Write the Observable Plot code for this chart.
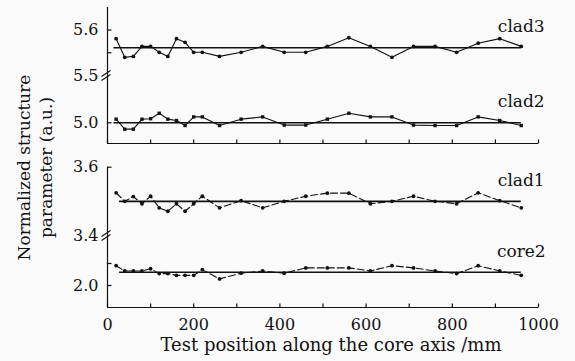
<!DOCTYPE html>
<html><head><meta charset="utf-8">
<script src="https://cdn.jsdelivr.net/npm/d3@7"></script>
<script src="https://cdn.jsdelivr.net/npm/@observablehq/plot@0.6"></script>
<style>html,body{margin:0;padding:0;background:#fafafa;}#chart{width:575px;height:361px;}</style>
</head><body><div id="chart"></div>
<script>
// ---- data ----
const positions = [20,40,60,80,100,120,140,160,180,200,220,260,310,360,410,460,510,560,610,660,710,760,810,860,910,960];
const clad3 = [5.581,5.540,5.542,5.564,5.564,5.551,5.542,5.581,5.573,5.551,5.551,5.542,5.551,5.564,5.551,5.551,5.564,5.583,5.564,5.540,5.564,5.564,5.551,5.571,5.581,5.564];
const clad2 = [5.008,4.986,4.986,5.008,5.009,5.021,5.008,5.005,4.994,5.013,5.013,4.994,5.008,5.013,4.995,4.995,5.008,5.021,5.013,5.013,4.995,4.994,4.994,5.013,5.005,4.994];
const clad1 = [3.525,3.500,3.514,3.493,3.515,3.481,3.471,3.493,3.471,3.493,3.515,3.481,3.502,3.481,3.500,3.515,3.524,3.524,3.493,3.500,3.515,3.500,3.493,3.525,3.502,3.481];
const core2 = [2.045,2.033,2.033,2.033,2.038,2.027,2.027,2.023,2.023,2.023,2.036,2.015,2.028,2.033,2.028,2.040,2.040,2.040,2.033,2.045,2.040,2.033,2.027,2.045,2.033,2.023];
const seriesNames = ["clad3","clad2","clad1","core2"];
const seriesValues = [clad3, clad2, clad1, core2];
const refValues = [5.561, 5.0, 3.5, 2.030];
const refStart = [15, 15, 28, 28];
const dashedSeries = ["clad1","core2"];
const squareSeries = ["clad2"];
const yTickLabels = [5.6, 5.5, 5.0, 3.6, 3.4, 2.0];
const yTickMarks = [5.6, 5.55, 5.0, 3.6, 2.05, 2.0];
const yBreaks = [5.5, 3.4];
const xTicks = d3.range(0, 1001, 100);
const xTickLabels = [0, 200, 400, 600, 800, 1000];
const panels = [{lo: 4.9545, hi: 5.6495}, {lo: 1.95, hi: 3.6}];
const xTitle = "Test position along the core axis /mm";
const yTitle = "Normalized structure\nparameter (a.u.)";

// broken (piecewise) y scale
const yDomain = [1.95, 2.1136, 3.4, 3.6, 4.9545, 5.104, 5.5, 5.6495];
const yRange  = [307, 235, 235, 166.7, 143, 75, 75, 7];

const data = seriesNames.flatMap((s, k) => positions.map((x, i) => ({series: s, x, y: seriesValues[k][i]})));
const refs = seriesNames.map((s, k) => ({series: s, y: refValues[k], x1: refStart[k], x2: positions[positions.length - 1]}));
const xTickData = panels.flatMap(p => xTicks.map(x => ({x, y: p.lo})));

const ink = "#111";
const tickUp = {draw(c){ c.moveTo(0,0); c.lineTo(0,-4); }};
const tickRight = {draw(c){ c.moveTo(0,0); c.lineTo(4,0); }};
const breakMark = {draw(c){ c.moveTo(-6,1); c.lineTo(3,-5); c.moveTo(-6,5); c.lineTo(3,-1); }};

const chart = Plot.plot({
  width: 575, height: 361,
  marginLeft: 107, marginRight: 37, marginTop: 7, marginBottom: 54,
  style: {background: "transparent", fontFamily: "'DejaVu Serif', serif", fontSize: "16px", color: ink, overflow: "visible"},
  x: {domain: [0, 1000], axis: null},
  y: {type: "linear", domain: yDomain, range: yRange, axis: null},
  marks: [
    // frames
    Plot.ruleX(panels, {x: () => 0, y1: "lo", y2: "hi", stroke: ink, strokeWidth: 1.2}),
    Plot.ruleY(panels, {y: "lo", x1: () => 0, x2: () => 1000, stroke: ink, strokeWidth: 1.2}),
    Plot.dot(xTickData, {x: "x", y: "y", symbol: tickUp, fill: "none", stroke: ink, strokeWidth: 1.2}),
    Plot.dot(yTickMarks, {x: () => 0, y: d => d, symbol: tickRight, fill: "none", stroke: ink, strokeWidth: 1.2}),
    Plot.dot(yBreaks, {x: () => 0, y: d => d, symbol: breakMark, fill: "none", stroke: ink, strokeWidth: 1.1}),
    // tick labels
    Plot.text(yTickLabels, {x: () => 0, y: d => d, text: d => d.toFixed(1), textAnchor: "end", dx: -9, fontSize: 16, fill: ink}),
    Plot.text(xTickLabels, {x: d => d, y: () => panels[1].lo, text: d => String(d), dy: 17, fontSize: 16, fill: ink}),
    // reference lines
    Plot.ruleY(refs, {y: "y", x1: "x1", x2: "x2", stroke: ink, strokeWidth: 1.6}),
    // data lines
    Plot.line(data.filter(d => !dashedSeries.includes(d.series)), {x: "x", y: "y", z: "series", stroke: ink, strokeWidth: 1.1}),
    Plot.line(data.filter(d => dashedSeries.includes(d.series)), {x: "x", y: "y", z: "series", stroke: ink, strokeWidth: 1.1, strokeDasharray: "7,3"}),
    Plot.dot(data.filter(d => !squareSeries.includes(d.series)), {x: "x", y: "y", r: 1.9, fill: ink}),
    Plot.dot(data.filter(d => squareSeries.includes(d.series)), {x: "x", y: "y", symbol: "square", r: 1.9, fill: ink}),
    // series labels
    Plot.text(refs, {x: "x2", y: "y", text: "series", dy: -21, dx: 0, fontSize: 17, fill: ink}),
    // axis titles
    Plot.text([xTitle], {frameAnchor: "bottom", text: d => d, textAnchor: "middle", lineAnchor: "middle", dy: 38, dx: 8, fontSize: 18, fill: ink}),
    Plot.text([yTitle], {frameAnchor: "left", text: d => d, textAnchor: "middle", lineAnchor: "middle", rotate: -90, dx: -74, dy: 10, lineHeight: 1.3, fontSize: 17, fill: ink})
  ]
});
document.getElementById("chart").appendChild(chart);
</script>
</body></html>
